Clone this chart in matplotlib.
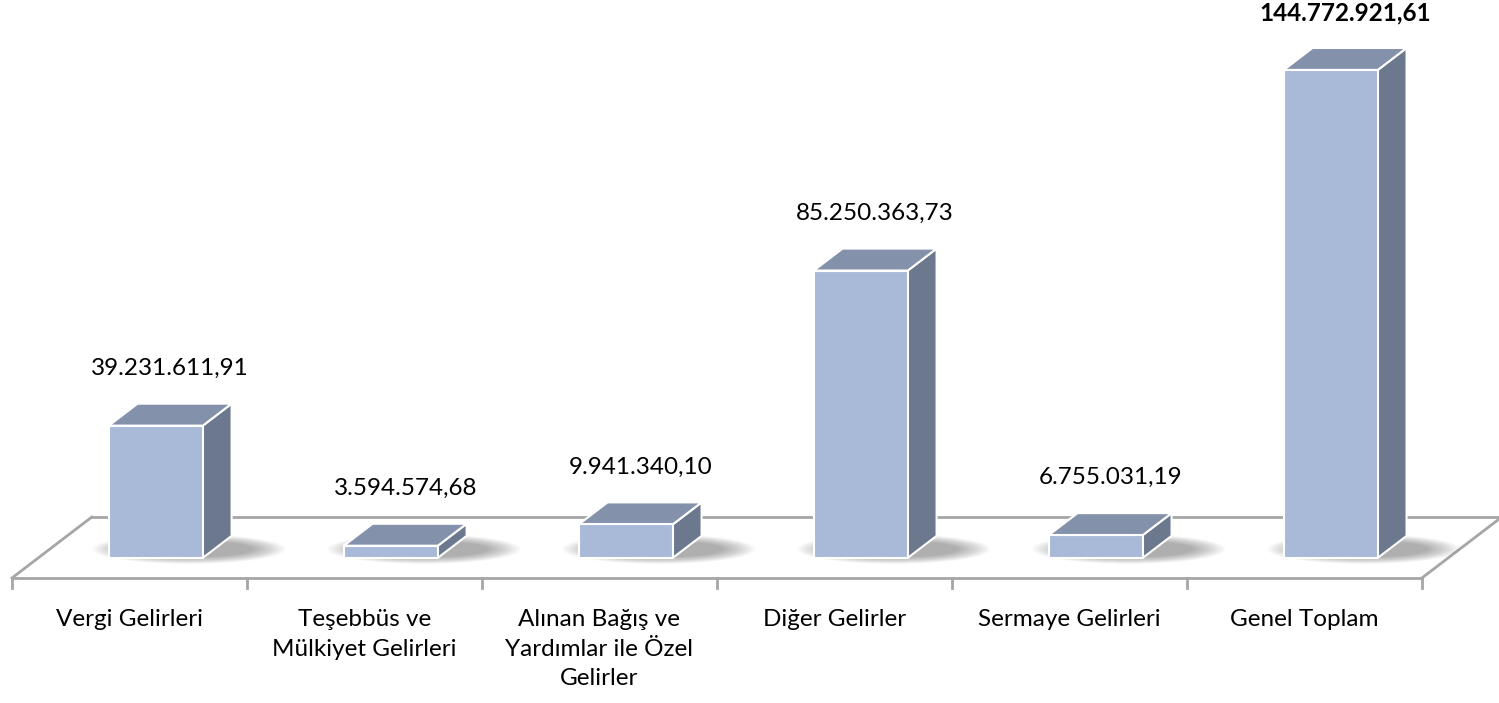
import numpy as np
import matplotlib.pyplot as plt
from matplotlib.patches import Polygon, Ellipse

categories = ["Vergi Gelirleri", "Teşebbüs ve\nMülkiyet Gelirleri",
              "Alınan Bağış ve\nYardımlar ile Özel\nGelirler", "Diğer Gelirler",
              "Sermaye Gelirleri", "Genel Toplam"]
values = [39231611.91, 3594574.68, 9941340.10, 85250363.73, 6755031.19, 144772921.61]

plt.rcParams['font.family'] = ['Lato', 'DejaVu Sans']


def tr_fmt(v):
    s = f"{v:,.2f}"
    return s.replace(",", "X").replace(".", ",").replace("X", ".")


fig = plt.figure(figsize=(14.99, 7.03), dpi=100)
ax = fig.add_axes([0, 0, 1, 1])
ax.set_xlim(-0.051, 6.328)
ax.set_ylim(-37.1, 171.5)
ax.axis('off')

# oblique depth of the floor, in (category, million) units
DX, DY = 0.34, 18.1
t0, t1 = 0.33, 0.69
bw = 0.40
floor_c = "#a6a6a6"
front_c = "#a9bad8"
top_c = "#8391ab"
side_c = "#6b788e"

n = len(categories)
# floor
ax.plot([0, n], [0, 0], color=floor_c, lw=2, zorder=1)
ax.plot([DX, n + DX], [DY, DY], color=floor_c, lw=2, zorder=1)
ax.plot([0, DX], [0, DY], color=floor_c, lw=2, zorder=1)
ax.plot([n, n + DX], [0, DY], color=floor_c, lw=2, zorder=1)
for i in range(n + 1):
    ax.plot([i, i], [0, -3], color=floor_c, lw=2, zorder=1)

ddx, ddy = (t1 - t0) * DX, (t1 - t0) * DY
for i, (cat, val) in enumerate(zip(categories, values)):
    v = val / 1e6
    x0 = i + 0.5 - bw / 2 + t0 * DX
    y0 = t0 * DY

    # soft shadow on the floor
    cx = x0 + bw / 2 + ddx / 2 + 0.08
    cy = y0 + ddy * 0.4
    for k in range(18):
        f = k / 17
        ax.add_patch(Ellipse((cx, cy), bw + ddx + 0.3 - 0.28 * f, ddy * 1.35 - ddy * 0.6 * f,
                             facecolor="#303030", edgecolor="none", alpha=0.022, zorder=2))

    front = [(x0, y0), (x0 + bw, y0), (x0 + bw, y0 + v), (x0, y0 + v)]
    top = [(x0, y0 + v), (x0 + bw, y0 + v), (x0 + bw + ddx, y0 + v + ddy),
           (x0 + ddx, y0 + v + ddy)]
    side = [(x0 + bw, y0), (x0 + bw + ddx, y0 + ddy), (x0 + bw + ddx, y0 + v + ddy),
            (x0 + bw, y0 + v)]
    for poly, c in [(side, side_c), (top, top_c), (front, front_c)]:
        ax.add_patch(Polygon(poly, closed=True, facecolor=c, edgecolor="white",
                             lw=1.5, joinstyle="round", zorder=3))

    bold = (i == n - 1)
    ax.text(x0 + bw / 2 + ddx / 2, y0 + v + ddy + 10.5, tr_fmt(val),
            ha="center", va="center", fontsize=17.5,
            fontweight="bold" if bold else "normal", color="black", zorder=4)

    ax.text(i + 0.5, -9.3, cat, ha="center", va="top", fontsize=17.5,
            linespacing=1.5, color="black")

fig.savefig("out.png", dpi=100)
